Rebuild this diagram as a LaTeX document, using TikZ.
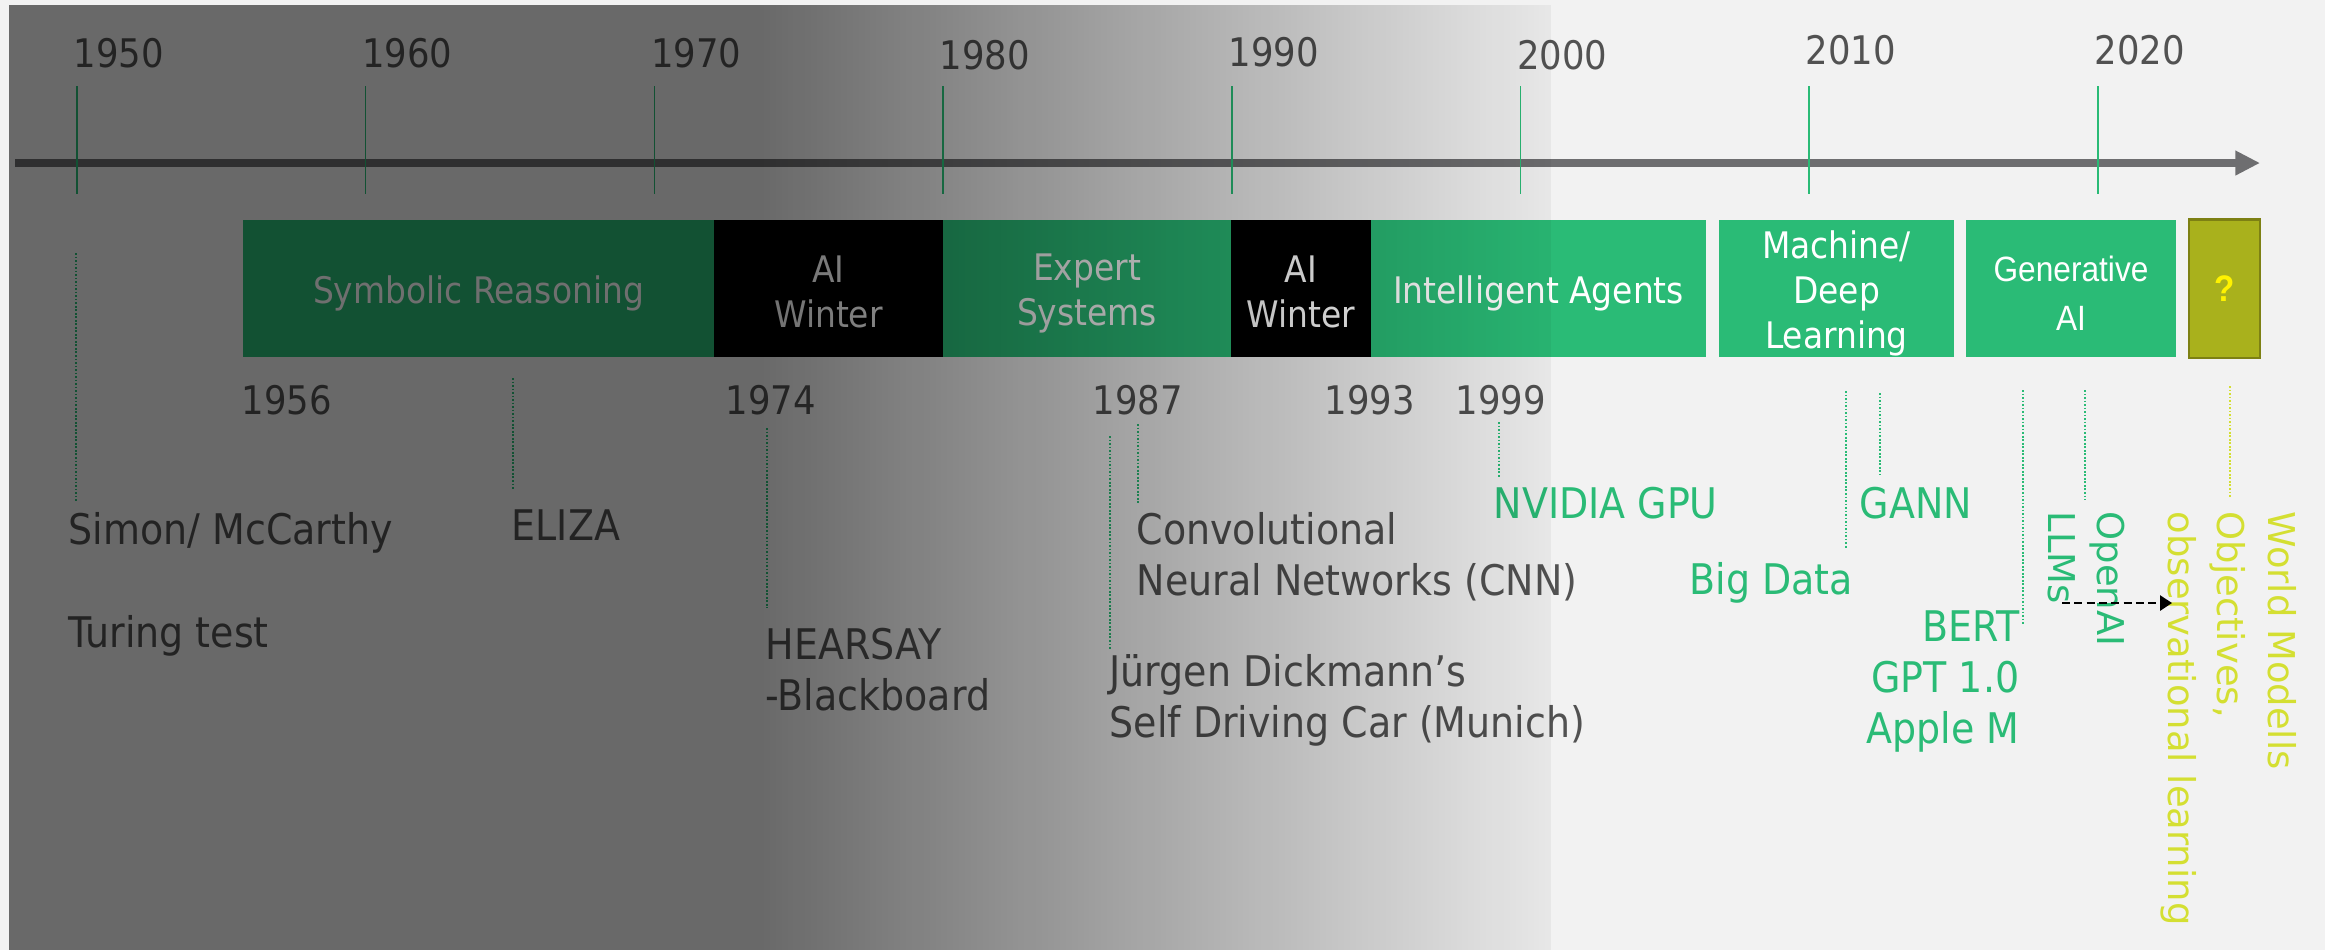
\documentclass[tikz,border=0pt]{standalone}
\usepackage{fontspec}
\setmainfont{DejaVu Sans Condensed}
\newfontfamily\vfont{DejaVu Sans}
\newfontfamily\afont[FakeStretch=0.9]{Liberation Sans}
\usetikzlibrary{arrows.meta,fadings}
\definecolor{bg}{RGB}{242,242,242}
\definecolor{grn}{RGB}{42,187,118}
\definecolor{olive}{RGB}{169,177,28}
\definecolor{oliveb}{RGB}{125,128,19}
\definecolor{lime}{RGB}{212,223,50}
\definecolor{txt}{RGB}{82,82,82}
\definecolor{axc}{RGB}{110,110,112}
\tikzfading[name=fadeshade, left color=transparent!43.4, right color=transparent!96]

\begin{document}
\begin{tikzpicture}[x=0.01cm,y=-0.01cm,
  yrlab/.style={anchor=base west,inner sep=0,text=txt,font=\fontsize{11.2}{13}\selectfont},
  ev/.style={anchor=base west,inner sep=0,text=txt,align=left,font=\fontsize{12}{14.5}\selectfont},
  gev/.style={ev,text=grn},
  vlab/.style={anchor=base west,rotate=-90,inner sep=0,align=left,font=\vfont\fontsize{10.5}{14.2}\selectfont},
  era/.style={fill=#1,text=white,inner sep=0,minimum height=1.37cm,align=center,font=\fontsize{10.4}{12.8}\selectfont},
  yrtick/.style={grn,line width=0.45pt},
  evline/.style={grn,line width=0.45pt,dash pattern=on 0.5pt off 0.5pt},
  lgap/.style={shorten >=#1*0.2845pt},
  darr/.style={black,line width=0.6pt,dash pattern=on 2.3pt off 1.2pt,-{Triangle[length=3.4pt,width=4.3pt]}}]
\fill[bg] (0,0) rectangle (2325,950);
\useasboundingbox (0,0) rectangle (2325,950);

\coordinate (axL) at (15,163);
\coordinate (axR) at (2260,163);
\draw[axc,line width=2.3pt,-{Triangle[length=7pt,width=6.6pt]}] (axL) -- (axR);

\foreach \y/\b [count=\i from 0] in {1950/67,1960/67,1970/67,1980/69,1990/66,2000/69,2010/64,2020/64} {
  \node[yrlab] (y\y) at (73+\i*288.7,\b) {\y};
  \draw[yrtick] (77+\i*288.7,86) -- (77+\i*288.7,194);
}

\node[era=grn,minimum width=4.71cm,text height=10.5pt] (v0) at (478.5,288.5) {Symbolic Reasoning};
\node[era=black,minimum width=2.29cm,text height=22.2pt] (v1) at (828.5,288.5) {AI\\Winter};
\node[era=grn,minimum width=2.88cm,text height=23pt] (v2) at (1087,288.5) {Expert\\Systems};
\node[era=black,minimum width=1.40cm,text height=22.2pt] (v3) at (1301,288.5) {AI\\Winter};
\node[era=grn,minimum width=3.35cm,text height=10.5pt] (v4) at (1538.5,288.5) {Intelligent Agents};
\node[era=grn,minimum width=2.35cm,text height=36.1pt] (v5) at (1836.5,288.5) {Machine/\\Deep\\Learning};
\node[era=grn,minimum width=2.10cm,text height=23.9pt,font=\afont\fontsize{10}{14}\selectfont] (v6) at (2071,288.5) {Generative\\AI};
\node[draw=oliveb,fill=olive,line width=0.6pt,inner sep=0,minimum width=0.71cm,minimum height=1.38cm,
  text=yellow,font=\afont\bfseries\fontsize{10.5}{12}\selectfont] (v7) at (2224.5,288.5) {?};

\node[yrlab] (d56) at (241,414) {1956};
\node[yrlab] (d74) at (725,414) {1974};
\node[yrlab] (d87) at (1092,414) {1987};
\node[yrlab] (d93) at (1324,414) {1993};
\node[yrlab] (d99) at (1455,414) {1999};

\node[ev] (simon) at (68,544) {Simon/ McCarthy};
\node[ev] (turing) at (68,647) {Turing test};
\node[ev] (eliza) at (511,540) {ELIZA};
\node[ev] (hearsay) at (765,710) {HEARSAY\\-Blackboard};
\node[ev] (cnn) at (1136,595) {Convolutional\\Neural Networks (CNN)};
\node[ev] (car) at (1109,737) {Jürgen Dickmann’s\\Self Driving Car (Munich)};
\node[gev] (gpu) at (1493,518) {NVIDIA GPU};
\node[gev] (gann) at (1859,518) {GANN};
\node[gev] (data) at (1689,594) {Big Data};
\node[gev,anchor=base east,align=right] (bert) at (2020,743) {BERT\\GPT 1.0\\Apple M};
\node[vlab,text=grn] (llm) at (2048,511) {OpenAI\\LLMs};
\node[vlab,text=lime] (obs) at (2168,511) {Objectives,\\observational learning};
\node[vlab,text=lime] (world) at (2268,511) {World Modells};

\coordinate (t0) at (76,253);
\coordinate (t1) at (513,378);
\coordinate (t2) at (767,428);
\coordinate (t3) at (1110,436);
\coordinate (t4) at (1138,424);
\coordinate (t5) at (1499,422);
\coordinate (t6) at (1846,391);
\coordinate (t7) at (1880,393);
\coordinate (t8) at (2023,390);
\coordinate (b8) at (2023,624);
\coordinate (t9) at (2085,390);
\coordinate (t10) at (2230,386);
\draw[evline,lgap=10] (t0) -- (t0 |- simon.north);
\draw[evline,lgap=20] (t1) -- (t1 |- eliza.north);
\draw[evline,lgap=19] (t2) -- (t2 |- hearsay.north);
\draw[evline,lgap=4] (t3) -- (t3 |- car.north);
\draw[evline,lgap=8] (t4) -- (t4 |- cnn.north);
\draw[evline,lgap=9] (t5) -- (t5 |- gpu.north);
\draw[evline,lgap=13] (t6) -- (t6 |- data.north);
\draw[evline,lgap=11] (t7) -- (t7 |- gann.north);
\draw[evline] (t8) -- (b8);
\draw[evline,lgap=11] (t9) -- (t9 |- llm.west);
\draw[evline,lime,lgap=14] (t10) -- (t10 |- world.west);

\coordinate (a0) at (2062,603);
\coordinate (a1) at (2172,603);
\draw[darr] (a0) -- (a1);

\fill[black,opacity=0.566] (9,5) rectangle (760,950);
\fill[black,path fading=fadeshade,fit fading=true] (760,5) rectangle (1551,950);
\end{tikzpicture}
\end{document}
